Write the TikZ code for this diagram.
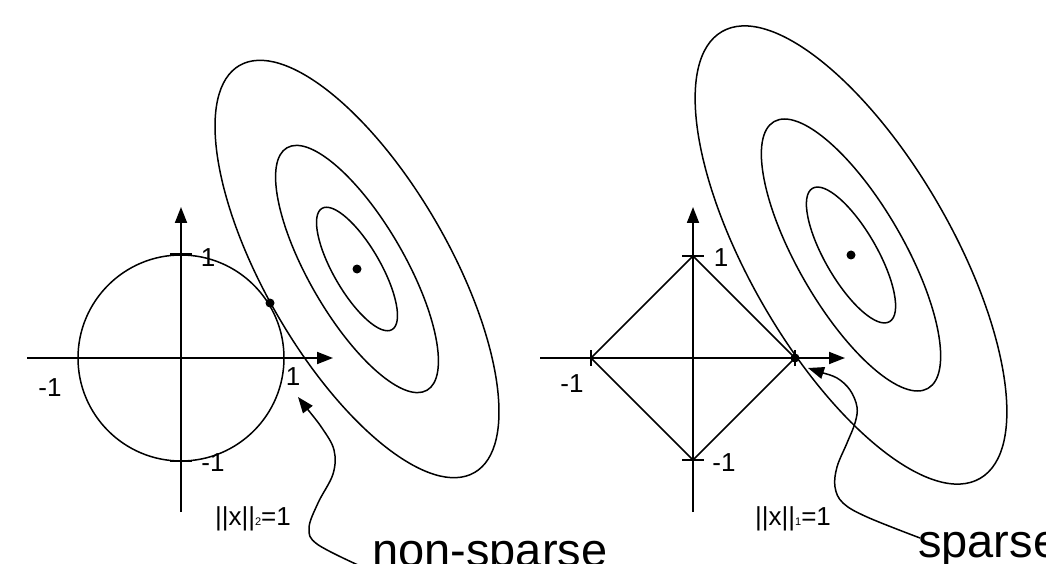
\documentclass[tikz,border=0pt]{standalone}
\usepackage{fontspec}
\setmainfont{Liberation Sans}
\usetikzlibrary{arrows.meta}
\begin{document}
\begin{tikzpicture}[x=1pt,y=1pt,
  curve/.style={line width=1.5pt},
  axis/.style={line width=1.8pt, -{Triangle[length=16pt,width=12pt]}},
  tickmark/.style={line width=1.6pt},
  dotc/.style={circle, fill=black, inner sep=0pt, minimum size=9pt},
  lbl/.style={font=\fontsize{26}{26}\selectfont, inner sep=0pt},
  big/.style={font=\fontsize{47}{47}\selectfont, inner sep=0pt},
  pointer/.style={line width=1.5pt, -{Triangle[length=16pt,width=12pt]}}]
\clip (0,0) rectangle (1046,563);
% ---------- left panel ----------
\coordinate (LxS) at (27,205);  \coordinate (LxE) at (333,205);
\coordinate (LyS) at (181,51);  \coordinate (LyE) at (181,356);
\coordinate (O1) at (181,205);
\draw[curve] (O1) circle [radius=103pt];
\draw[axis] (LxS) -- (LxE);
\draw[axis] (LyS) -- (LyE);
\draw[tickmark] (170,309) -- (192,309);
\draw[tickmark] (170,102) -- (192,102);
\coordinate (C1) at (357,294);
\draw[curve] (C1) ellipse [x radius=70pt, y radius=23.5pt, rotate=-60];
\draw[curve] (C1) ellipse [x radius=140pt, y radius=48pt, rotate=-60];
\draw[curve] (C1) ellipse [x radius=235pt, y radius=92pt, rotate=-60];
\node[dotc] (c1dot) at (C1) {};
\node[dotc] (t1dot) at (270,260) {};
\node[lbl] (l1t) at (208,305) {1};
\node[lbl] (l1l) at (50,175) {-1};
\node[lbl] (l1r) at (293,186) {1};
\node[lbl] (l1b) at (213,100) {-1};
\node[lbl, anchor=base] (n2) at (253,38) {||x||{\fontsize{11}{11}\selectfont 2}=1};
\node[big, anchor=base west] (ns) at (372,-3) {non-sparse};
\coordinate (nsS) at (358,-2);
\coordinate (nsE) at (298,166);
\draw[pointer] plot[smooth, tension=0.6] coordinates {(nsS) (317,19) (309,35) (318,60) (333,89) (334,113) (322,135) (305,157) (nsE)};
% ---------- right panel ----------
\coordinate (RxS) at (540,205);  \coordinate (RxE) at (845,205);
\coordinate (RyS) at (693,51);   \coordinate (RyE) at (693,356);
\coordinate (Dt) at (693,307); \coordinate (Dr) at (795,205);
\coordinate (Db) at (693,103); \coordinate (Dl) at (591,205);
\draw[curve] (Dt) -- (Dr) -- (Db) -- (Dl) -- cycle;
\draw[axis] (RxS) -- (RxE);
\draw[axis] (RyS) -- (RyE);
\draw[tickmark] (682,307) -- (704,307);
\draw[tickmark] (682,103) -- (704,103);
\draw[tickmark] (591,197) -- (591,213);
\draw[tickmark] (795,197) -- (795,213);
\coordinate (C2) at (851,308);
\draw[curve] (C2) ellipse [x radius=77pt, y radius=26pt, rotate=-60];
\draw[curve] (C2) ellipse [x radius=154pt, y radius=53pt, rotate=-60];
\draw[curve] (C2) ellipse [x radius=258pt, y radius=101pt, rotate=-60];
\node[dotc] (c2dot) at (C2) {};
\node[dotc] (t2dot) at (Dr) {};
\node[lbl] (r1t) at (721,305) {1};
\node[lbl] (r1l) at (572,179) {-1};
\node[lbl] (r1b) at (724,100) {-1};
\node[lbl, anchor=base] (n1) at (793,38) {||x||{\fontsize{11}{11}\selectfont 1}=1};
\node[big, anchor=base west] (sp) at (918,6) {sparse};
\coordinate (spS) at (920,25);
\coordinate (spE) at (808,195);
\draw[pointer] plot[smooth, tension=0.6] coordinates {(spS) (867,46) (843,60) (835,76) (837,96) (847,120) (855,140) (857,156) (850,173) (837,185) (820,191) (spE)};
\end{tikzpicture}
\end{document}
